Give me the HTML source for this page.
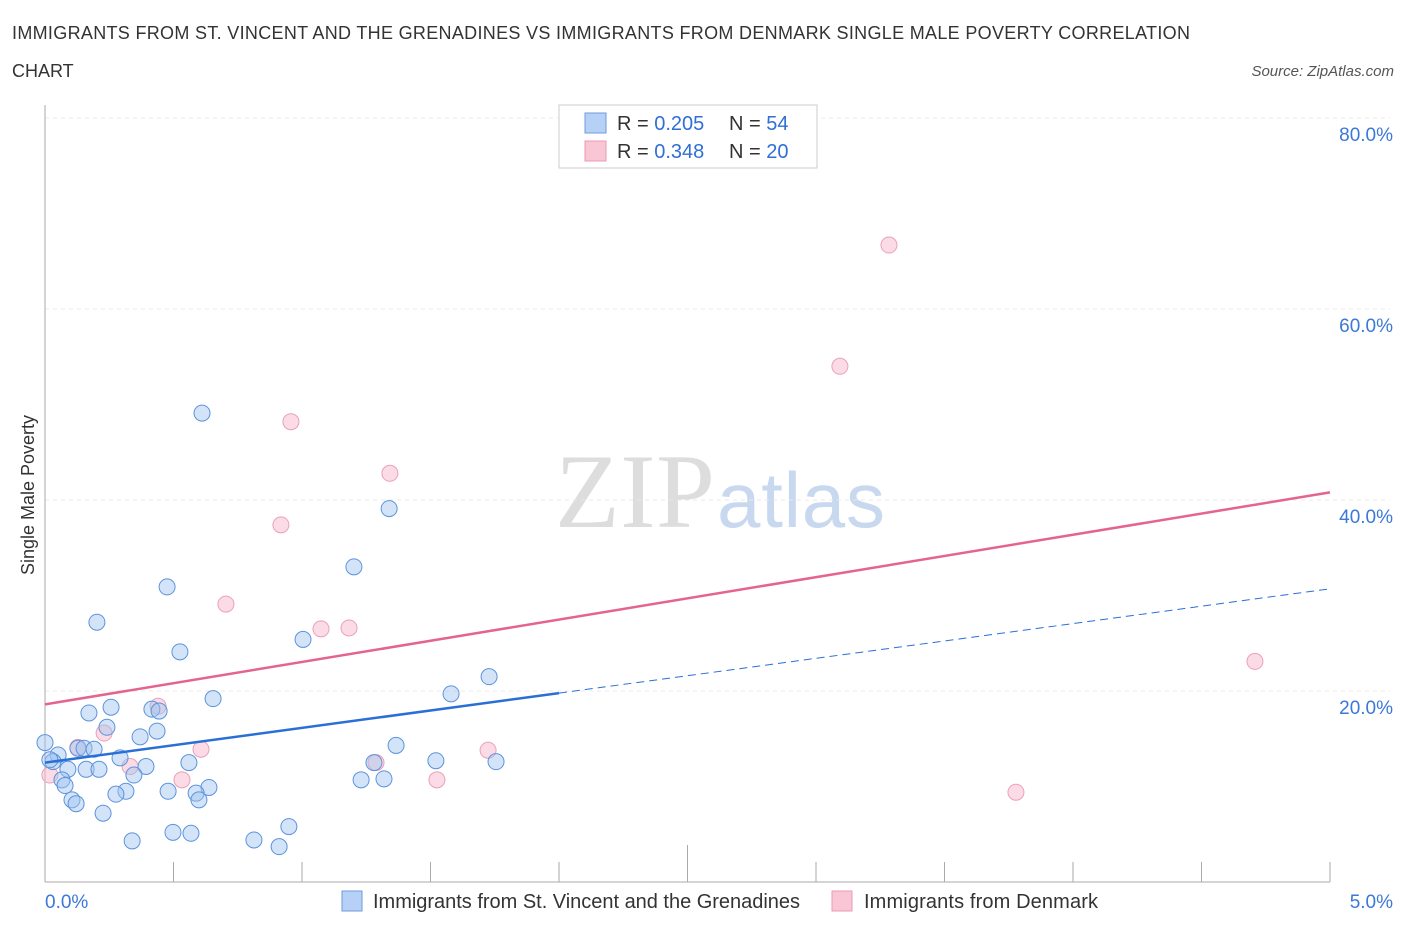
<!DOCTYPE html>
<html><head><meta charset="utf-8"><style>
body{margin:0;background:#fff;font-family:"Liberation Sans",sans-serif}
</style></head><body>
<svg width="1406" height="930" xmlns="http://www.w3.org/2000/svg" id="svg">
<text x="12" y="39" font-size="18" fill="#333" textLength="1178">IMMIGRANTS FROM ST. VINCENT AND THE GRENADINES VS IMMIGRANTS FROM DENMARK SINGLE MALE POVERTY CORRELATION</text>
<text x="12" y="77" font-size="18" fill="#333">CHART</text>
<text x="1394" y="76" font-size="15" fill="#555" font-style="italic" text-anchor="end">Source: ZipAtlas.com</text>
<text x="555" y="527" font-size="106" fill="#ddd" font-family="Liberation Serif,serif" textLength="160">ZIP</text>
<text x="717" y="527" font-size="78" fill="#c8d8ef" textLength="168">atlas</text>
<text x="34" y="495" font-size="18" fill="#333" text-anchor="middle" transform="rotate(-90 34 495)">Single Male Poverty</text>
<g id="grid"></g><g id="pts"></g>
<g>
<rect x="559" y="105" width="258" height="63" fill="#fff" stroke="#ccc"/>
<rect x="585" y="113" width="21" height="20" fill="#b7d0f5" stroke="#6b9de0"/>
<rect x="585" y="141" width="21" height="20" fill="#f9c6d6" stroke="#eb9ab3"/>
<text x="617" y="130" font-size="20" fill="#333">R = <tspan fill="#2f6fd6">0.205</tspan></text>
<text x="729" y="130" font-size="20" fill="#333">N = <tspan fill="#2f6fd6">54</tspan></text>
<text x="617" y="158" font-size="20" fill="#333">R = <tspan fill="#2f6fd6">0.348</tspan></text>
<text x="729" y="158" font-size="20" fill="#333">N = <tspan fill="#2f6fd6">20</tspan></text>
</g>
<g>
<rect x="342" y="891" width="20" height="20" fill="#b7d0f5" stroke="#6b9de0"/>
<text x="373" y="908" font-size="20" fill="#333" textLength="427">Immigrants from St. Vincent and the Grenadines</text>
<rect x="832" y="891" width="20" height="20" fill="#f9c6d6" stroke="#eb9ab3"/>
<text x="864" y="908" font-size="20" fill="#333" textLength="234">Immigrants from Denmark</text>
</g>
</svg>
<script>
const blueX=[0.611,1.339,1.202,0.475,0.202,0.525,1.004,1.728,1.580,0.654,0.171,0.257,0.416,0.444,0.241,0.436,0.370,1.366,0.128,0.152,0.191,0,0.051,0.031,0.292,0.393,0.560,0.089,0.160,0.210,1.521,1.755,1.280,0.346,0.066,0.078,1.230,1.319,0.315,0.276,0.479,0.638,0.588,0.599,0.105,0.121,0.226,0.498,0.568,0.949,0.813,0.339,0.911,0.019];
const blueY=[49.1,39.1,33.0,30.9,27.2,24.1,25.4,21.5,19.7,19.2,17.7,18.3,18.1,17.9,16.2,15.8,15.2,14.3,14.0,14.0,13.9,14.6,13.3,12.6,13.0,12.1,12.5,11.8,11.8,11.8,12.7,12.6,12.5,11.2,10.7,10.1,10.7,10.8,9.5,9.2,9.5,9.9,9.3,8.6,8.6,8.2,7.2,5.2,5.1,5.8,4.4,4.3,3.7,12.8];
const pinkX=[3.284,3.093,0.957,1.342,0.918,0.704,1.074,1.183,4.708,0.440,0.230,0.607,0.128,1.724,1.288,0.331,0.533,1.525,3.778,0.019];
const pinkY=[66.7,54.0,48.2,42.8,37.4,29.1,26.5,26.6,23.1,18.4,15.6,13.9,14.1,13.8,12.5,12.1,10.7,10.7,9.4,11.2];
const yTicks=[20,40,60,80];
const yTickLabels=["20.0%","40.0%","60.0%","80.0%"];
const xTicks=[0,0.5,1,1.5,2,2.5,3,3.5,4,4.5,5];
const pinkTrend=[18.6,40.8];
const blueTrend=[12.5,30.7];
const blueSolidEnd=2.0;
const NS="http://www.w3.org/2000/svg";
const sx=v=>45+v/5*1285, sy=v=>882-v*9.55;
function mk(t,a,p){const e=document.createElementNS(NS,t);for(const k in a)e.setAttribute(k,a[k]);p.appendChild(e);return e;}
const g=document.getElementById('grid'),P=document.getElementById('pts');
yTicks.forEach((t,i)=>{const l=mk('line',{x1:45,x2:1390,y1:sy(t),y2:sy(t),stroke:'#e8e8e8','stroke-dasharray':'4,4'},g);


const tx=mk('text',{x:1393,y:sy(t)+23,'font-size':19,fill:'#3b78d8','text-anchor':'end'},g);tx.textContent=yTickLabels[i];

});
const ax=mk('line',{x1:45,x2:45,y1:105,y2:882,stroke:'#aaa'},g);


const bx=mk('line',{x1:45,x2:1330,y1:882,y2:882,stroke:'#aaa'},g);


xTicks.forEach((t,i)=>{const l=mk('line',{x1:sx(t),x2:sx(t),y1:i==5?845:862,y2:882,stroke:'#aaa'},g);

});
[[0,'0.0%','start',45],[5,'5.0%','end',1393]].forEach(a=>{const t=mk('text',{x:a[3],y:908,'font-size':19,fill:'#3b78d8','text-anchor':a[2]},g);t.textContent=a[1];

});
pinkX.forEach((x,i)=>{const c=mk('circle',{cx:sx(x),cy:sy(pinkY[i]),r:8,fill:'rgba(248,185,205,0.5)',stroke:'#eba0b8','stroke-width':1},P);

});
blueX.forEach((x,i)=>{const c=mk('circle',{cx:sx(x),cy:sy(blueY[i]),r:8,fill:'rgba(160,196,240,0.45)',stroke:'#5b93dd','stroke-width':1},P);

});
const bm=blueTrend[0]+(blueTrend[1]-blueTrend[0])*blueSolidEnd/5;
const l1=mk('line',{x1:sx(0),y1:sy(pinkTrend[0]),x2:sx(5),y2:sy(pinkTrend[1]),stroke:'#e4648e','stroke-width':2.5},P);


const l2=mk('line',{x1:sx(0),y1:sy(blueTrend[0]),x2:sx(blueSolidEnd),y2:sy(bm),stroke:'#2a6fd6','stroke-width':2.5},P);


const l3=mk('line',{x1:sx(blueSolidEnd),y1:sy(bm),x2:sx(5),y2:sy(blueTrend[1]),stroke:'#2a6fd6','stroke-width':1,'stroke-dasharray':'8,5'},P);


</script>
</body></html>
